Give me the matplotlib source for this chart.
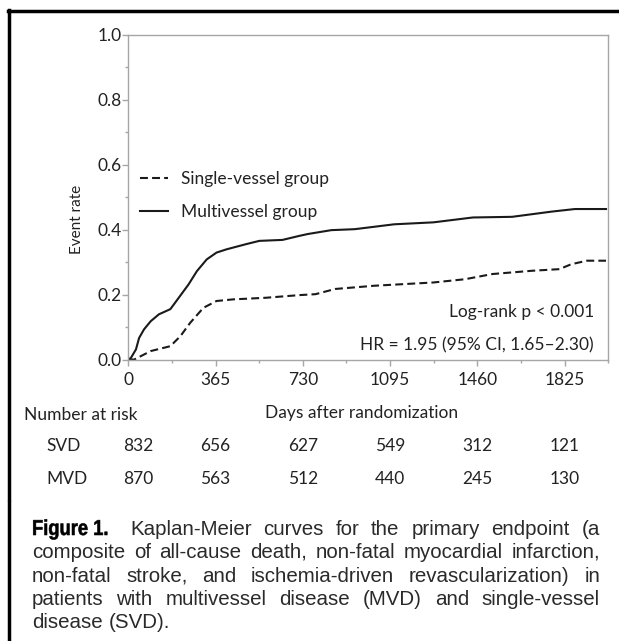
import matplotlib
matplotlib.use('Agg')
import matplotlib.pyplot as plt
from matplotlib.lines import Line2D
from matplotlib.textpath import TextPath
from matplotlib.patches import PathPatch
from matplotlib.font_manager import FontProperties
import matplotlib.transforms as mtransforms

# data
mvd_days = [0, 11, 32, 45, 66, 94, 128, 176, 211, 252, 287, 328, 369, 411, 493, 548,
            645, 713, 750, 849, 947, 1112, 1276, 1441, 1605, 1770, 1868, 1998]
mvd_rate = [0.0, 0.005, 0.031, 0.066, 0.093, 0.118, 0.139, 0.155, 0.19, 0.231, 0.272,
            0.308, 0.329, 0.339, 0.355, 0.365, 0.368, 0.38, 0.386, 0.398, 0.401, 0.416,
            0.422, 0.437, 0.439, 0.455, 0.463, 0.463]
svd_days = [0, 25, 94, 176, 218, 259, 314, 369, 438, 576, 713, 783, 865, 1030, 1276,
            1408, 1523, 1688, 1803, 1852, 1918, 1998]
svd_rate = [0.0, 0.0, 0.026, 0.041, 0.072, 0.113, 0.159, 0.18, 0.185, 0.19, 0.198,
            0.201, 0.217, 0.227, 0.237, 0.247, 0.263, 0.273, 0.278, 0.293, 0.304, 0.304]

xticks = [0, 365, 730, 1095, 1460, 1825]
yticks = [0.0, 0.2, 0.4, 0.6, 0.8, 1.0]
risk_pos = [43, 365, 730, 1095, 1460, 1825]
svd_risk = [832, 656, 627, 549, 312, 121]
mvd_risk = [870, 563, 512, 440, 245, 130]

caption_lines = [
    "Kaplan-Meier curves for the primary endpoint (a",
    "composite of all-cause death, non-fatal myocardial infarction,",
    "non-fatal stroke, and ischemia-driven revascularization) in",
    "patients with multivessel disease (MVD) and single-vessel",
    "disease (SVD).",
]

plt.rcParams['font.family'] = ['Lato', 'DejaVu Sans']
txt = '#222222'
fs = 12.5

W, H = 619, 641
fig = plt.figure(figsize=(W / 100, H / 100), dpi=100)

def fx(x):
    return x / W

def fy(y):
    return 1 - y / H

# frame around the figure
fig.add_artist(Line2D([fx(9), fx(9)], [fy(10), fy(499)], color='black', lw=2.5))
fig.add_artist(Line2D([fx(9), fx(9)], [fy(502), fy(641)], color='black', lw=2.5))
fig.add_artist(Line2D([fx(8), fx(619)], [fy(10.5), fy(10.5)], color='black', lw=2.5))

ax = fig.add_axes([fx(128.3), fy(359.5), (608.3 - 128.3) / W, (359.5 - 34.5) / H])
ax.plot(mvd_days, mvd_rate, color='#1a1a1a', lw=1.5, label='Multivessel group')
ax.plot(svd_days, svd_rate, color='#1a1a1a', lw=1.5, dashes=(3.8, 2.0),
        label='Single-vessel group')
ax.set_xlim(0, 1998)
ax.set_ylim(0, 1.0)
ax.set_xticks(xticks)
ax.set_xticks([x + 182.5 for x in xticks], minor=True)
ax.set_yticks(yticks)
ax.set_yticklabels(['%.1f' % v for v in yticks])
ax.set_yticks([v + 0.1 for v in yticks[:-1]], minor=True)
for s in ax.spines.values():
    s.set_color('#a6a6a6')
    s.set_linewidth(1.0)
ax.tick_params(which='major', length=4, width=1, color='#a6a6a6', labelsize=fs,
               labelcolor=txt)
ax.tick_params(which='minor', length=2, width=1, color='#a6a6a6')
ax.tick_params(axis='y', pad=1)
ax.tick_params(axis='x', pad=5)

h = ax.get_legend_handles_labels()[0]
leg = ax.legend([h[1], h[0]], ['Single-vessel group', 'Multivessel group'],
                loc='upper left', bbox_to_anchor=(0.01, 0.40, 0.5, 0.2),
                frameon=False, fontsize=fs, handlelength=1.6, handletextpad=0.75,
                labelspacing=0.95, borderaxespad=0.0)
for t in leg.get_texts():
    t.set_color(txt)

fig.text(fx(594), fy(312), 'Log-rank p < 0.001', ha='right', va='center',
         fontsize=fs, color=txt)
fig.text(fx(594), fy(345), 'HR = 1.95 (95% CI, 1.65\u20132.30)', ha='right', va='center',
         fontsize=fs, color=txt)
fig.text(fx(77), fy(219), 'Event rate', rotation=90, ha='center', va='center',
         fontsize=11, color=txt)
fig.text(fx(362), fy(413), 'Days after randomization', ha='center', va='center',
         fontsize=fs, color=txt)
fig.text(fx(24), fy(415), 'Number at risk', ha='left', va='center',
         fontsize=fs, color=txt)

trans = mtransforms.blended_transform_factory(ax.transData, fig.transFigure)
fig.text(fx(46), fy(446), 'SVD', ha='left', va='center', fontsize=fs, color=txt)
fig.text(fx(46), fy(479), 'MVD', ha='left', va='center', fontsize=fs, color=txt)
for p, a, b in zip(risk_pos, svd_risk, mvd_risk):
    ax.text(p, fy(446), str(a), transform=trans, ha='center', va='center',
            fontsize=fs, color=txt, clip_on=False)
    ax.text(p, fy(479), str(b), transform=trans, ha='center', va='center',
            fontsize=fs, color=txt, clip_on=False)

# caption, sized to the column and justified word by word
renderer = fig.canvas.get_renderer()
cap_color = '#2a2a2a'
probe = fig.text(0, 0, caption_lines[1], family='Liberation Sans', fontsize=10)
cap_size = 10 * 556 / probe.get_window_extent(renderer).width
probe.remove()
cap_kw = dict(family=['Liberation Sans', 'DejaVu Sans'], fontsize=cap_size,
              color=cap_color, va='baseline', ha='left')

def justify(words, x0, x1, y, stretch=True):
    texts = [fig.text(0, fy(y), w, **cap_kw) for w in words]
    widths = [t.get_window_extent(renderer).width for t in texts]
    gap = cap_size * 100 / 72 * 0.278
    if stretch and len(words) > 1:
        gap = (x1 - x0 - sum(widths)) / (len(words) - 1)
    x = x0
    for t, w in zip(texts, widths):
        t.set_x(fx(x))
        x += w + gap

baselines = [535, 558, 582, 605, 628]
for i, (line, yb) in enumerate(zip(caption_lines, baselines)):
    x0 = 130 if i == 0 else 32
    justify(line.split(' '), x0, 600, yb, stretch=(i < len(caption_lines) - 1))

# "Figure 1." in a condensed bold, squeezed from a text path
tp = TextPath((0, 0), 'Figure 1.', size=cap_size * 1.02,
              prop=FontProperties(family='Liberation Sans', weight='bold'))
ext = tp.get_extents()
k = 100 / 72
sx = 74 / (ext.width * k)
tr = mtransforms.Affine2D().scale(sx * k, k * 1.03).translate(32, H - 535)
fig.add_artist(PathPatch(tp, transform=tr, color='black', lw=0.4))

fig.savefig('out.png', dpi=100)
